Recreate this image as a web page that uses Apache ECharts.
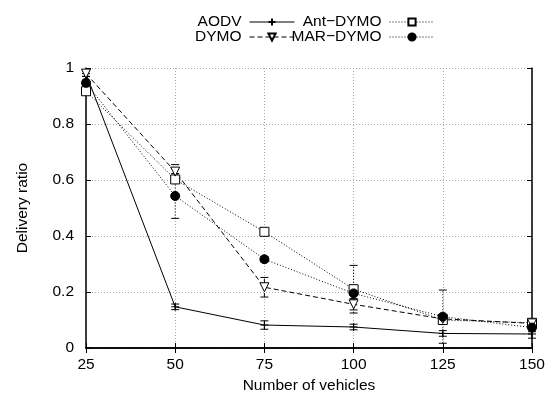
<!DOCTYPE html>
<html><head><meta charset="utf-8">
<script src="https://cdn.jsdelivr.net/npm/echarts@6/dist/echarts.min.js"></script>
<style>html,body{margin:0;padding:0;background:#fff}#c{width:553px;height:399px}</style>
</head><body><div id="c"></div>
<script>
const vehicles = [25, 50, 75, 100, 125, 150];
const aodv     = [0.98, 0.147, 0.082, 0.075, 0.052, 0.050];
const aodvErr  = [0.01, 0.010, 0.015, 0.010, 0.010, 0.015];
const dymo     = [0.98, 0.630, 0.217, 0.156, 0.104, 0.088];
const dymoErr  = [0.01, 0.025, 0.035, 0.020, 0.010, 0.015];
const ant      = [0.917, 0.602, 0.415, 0.210, 0.100, 0.090];
const antErr   = [0.01, 0.010, 0.010, 0.085, 0.010, 0.015];
const mar      = [0.947, 0.543, 0.317, 0.195, 0.112, 0.073];
const marErr   = [0.01, 0.080, 0.010, 0.020, 0.095, 0.015];
const yTicks = [0, 0.2, 0.4, 0.6, 0.8, 1];

const font = 'Liberation Sans, Arial, sans-serif';
const fs = 15.5;
function pts(v){ return vehicles.map((x,i)=>[x, v[i]]); }
function errData(v,e){ return vehicles.map((x,i)=>[x, v[i]-e[i], v[i]+e[i]]); }
function errSeries(name, v, e, type){
  return {
    type:'custom', name: name+'_err', data: errData(v,e), z: 3, silent: true,
    encode:{x:0, y:[1,2]},
    renderItem: function(params, api){
      const x = api.value(0);
      const lo = api.coord([x, api.value(1)]);
      const hi = api.coord([x, api.value(2)]);
      const w = 4;
      const st = {stroke:'#000', lineWidth:1, lineDash: type==='solid'?null:(type==='dashed'?[4,3]:[1,2])};
      return {type:'group', children:[
        {type:'line', shape:{x1:lo[0], y1:lo[1], x2:hi[0], y2:hi[1]}, style: st},
        {type:'line', shape:{x1:lo[0]-w, y1:lo[1], x2:lo[0]+w, y2:lo[1]}, style:{stroke:'#000', lineWidth:1}},
        {type:'line', shape:{x1:hi[0]-w, y1:hi[1], x2:hi[0]+w, y2:hi[1]}, style:{stroke:'#000', lineWidth:1}}
      ]};
    }
  };
}
function lineSeries(name, v, type, symbol, size, filled){
  return {
    type:'line', name: name, data: pts(v), z: 4,
    symbol: symbol, symbolSize: size, showSymbol: true,
    lineStyle:{color:'#000', width:1, type: type==='dotted'?[1,2]:(type==='dashed'?[5,3]:'solid')},
    itemStyle:{color: filled?'#000':'#fff', borderColor:'#000', borderWidth:1},
    emphasis:{disabled:true}
  };
}
const triDown = 'path://M0,0 L10,0 L5,9 Z';
const plus = 'path://M0,5 L10,5 M5,0 L5,10';
const chart = echarts.init(document.getElementById('c'));
const axisLabelStyle = {color:'#000', fontFamily: font, fontSize: fs};
function leg(name, top, right){
  return {top: top, right: right, orient:'horizontal', align:'right', itemWidth: 45, itemHeight: 9, itemGap: 0,
     textStyle:{fontFamily: font, fontSize: fs, color:'#000', padding:[0,3,0,0]}, selectedMode:false,
     lineStyle:{width:1}, data:[name]};
}
chart.setOption({
  animation:false,
  backgroundColor:'#fff',
  textStyle:{fontFamily: font},
  legend:[
    leg('AODV', 9, 253), leg('Ant\u2212DYMO', 9, 113),
    leg('DYMO', 24, 253), leg('MAR\u2212DYMO', 24, 113)
  ],
  grid:{left:86, right:21, top:68, bottom:51},
  xAxis:[
    {type:'value', min:25, max:150, interval:25, name:'Number of vehicles', nameLocation:'middle', nameGap:30,
     nameTextStyle:{color:'#000', fontFamily: font, fontSize: fs},
     axisLine:{show:true, lineStyle:{color:'#000', width:1.5}},
     axisTick:{show:true, inside:true, length:5, lineStyle:{color:'#000'}},
     axisLabel: Object.assign({margin:9}, axisLabelStyle),
     splitLine:{show:true, lineStyle:{color:'#aaa', type:[1,2], width:1}}},
    {type:'value', min:25, max:150, interval:25, position:'top',
     axisLine:{show:true, lineStyle:{color:'#000', width:1.5}},
     axisTick:{show:true, inside:true, length:5, lineStyle:{color:'#000'}},
     axisLabel:{show:false}, splitLine:{show:false}}
  ],
  yAxis:[
    {type:'value', min:0, max:1, interval:0.2, name:'Delivery ratio', nameLocation:'middle', nameGap:55,
     nameTextStyle:{color:'#000', fontFamily: font, fontSize: fs},
     axisLine:{show:true, lineStyle:{color:'#000', width:1.5}},
     axisTick:{show:true, inside:true, length:5, lineStyle:{color:'#000'}},
     axisLabel: Object.assign({margin:12, formatter: v => yTicks.includes(+v.toFixed(1)) ? String(+v.toFixed(1)) : ''}, axisLabelStyle),
     splitLine:{show:true, lineStyle:{color:'#aaa', type:[1,2], width:1}}},
    {type:'value', min:0, max:1, interval:0.2, position:'right',
     axisLine:{show:true, lineStyle:{color:'#000', width:1.5}},
     axisTick:{show:true, inside:true, length:5, lineStyle:{color:'#000'}},
     axisLabel:{show:false}, splitLine:{show:false}}
  ],
  series:[
    lineSeries('AODV', aodv, 'solid', plus, 8, false),
    lineSeries('Ant\u2212DYMO', ant, 'dotted', 'rect', 9, false),
    lineSeries('DYMO', dymo, 'dashed', triDown, 9, false),
    lineSeries('MAR\u2212DYMO', mar, 'dotted', 'circle', 9, true),
    errSeries('AODV', aodv, aodvErr, 'solid'),
    errSeries('Ant\u2212DYMO', ant, antErr, 'dotted'),
    errSeries('DYMO', dymo, dymoErr, 'dashed'),
    errSeries('MAR\u2212DYMO', mar, marErr, 'dotted')
  ]
});
</script></body></html>
